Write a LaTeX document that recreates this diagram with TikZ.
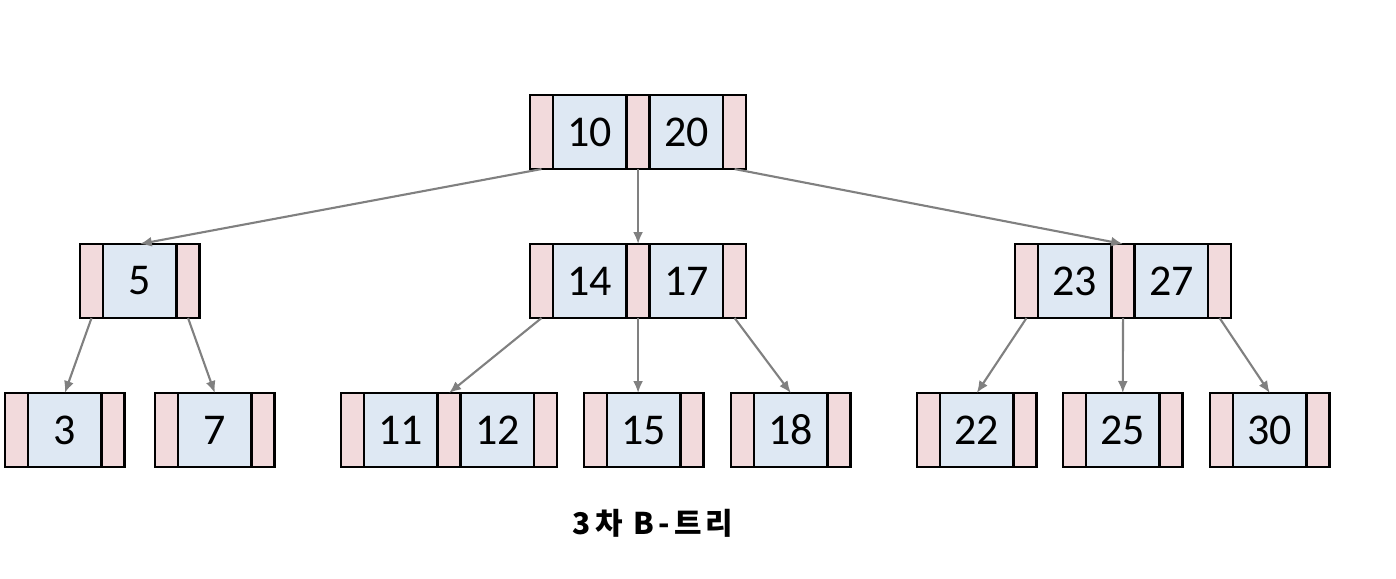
\documentclass[tikz,border=0pt]{standalone}
\usepackage{fontspec}
\setmainfont{Carlito}
\newfontfamily\kofont[LetterSpace=14]{Noto Sans CJK KR}
\usetikzlibrary{positioning,arrows.meta}

\definecolor{ptrpink}{RGB}{242,218,220}
\definecolor{keyblue}{RGB}{222,232,243}
\definecolor{edgegray}{RGB}{128,128,128}

\tikzset{
  cell/.style={draw=black,line width=0.65pt,inner sep=0pt,outer sep=0pt,minimum height=0.74cm},
  ptr/.style={cell,fill=ptrpink,minimum width=0.23cm},
  key/.style={cell,fill=keyblue,minimum width=0.735cm,font=\fontsize{12.5}{14}\selectfont},
  edge/.style={draw=edgegray,line width=0.6pt,-{Latex[length=1.2mm,width=1mm]}}
}

\begin{document}
\begin{tikzpicture}[x=0.01cm,y=-0.01cm]
        \useasboundingbox (0,0) rectangle (1396,578);

        % root
        \node[ptr,anchor=north west] (N10p0) at (530,95) {};
        \node[key,right=0pt of N10p0] (N10k1) {10};
        \node[ptr,right=0pt of N10k1] (N10p1) {};
        \node[key,right=0pt of N10p1] (N10k2) {20};
        \node[ptr,right=0pt of N10k2] (N10p2) {};

        % second level
        \node[ptr,anchor=north west] (N5p0) at (80,244) {};
        \node[key,right=0pt of N5p0] (N5k1) {5};
        \node[ptr,right=0pt of N5k1] (N5p1) {};

        \node[ptr,anchor=north west] (N14p0) at (530,244) {};
        \node[key,right=0pt of N14p0] (N14k1) {14};
        \node[ptr,right=0pt of N14k1] (N14p1) {};
        \node[key,right=0pt of N14p1] (N14k2) {17};
        \node[ptr,right=0pt of N14k2] (N14p2) {};

        \node[ptr,anchor=north west] (N23p0) at (1015,244) {};
        \node[key,right=0pt of N23p0] (N23k1) {23};
        \node[ptr,right=0pt of N23k1] (N23p1) {};
        \node[key,right=0pt of N23p1] (N23k2) {27};
        \node[ptr,right=0pt of N23k2] (N23p2) {};

        % leaves
        \node[ptr,anchor=north west] (N3p0) at (5,393) {};
        \node[key,right=0pt of N3p0] (N3k1) {3};
        \node[ptr,right=0pt of N3k1] (N3p1) {};

        \node[ptr,anchor=north west] (N7p0) at (155,393) {};
        \node[key,right=0pt of N7p0] (N7k1) {7};
        \node[ptr,right=0pt of N7k1] (N7p1) {};

        \node[ptr,anchor=north west] (N11p0) at (341,393) {};
        \node[key,right=0pt of N11p0] (N11k1) {11};
        \node[ptr,right=0pt of N11k1] (N11p1) {};
        \node[key,right=0pt of N11p1] (N11k2) {12};
        \node[ptr,right=0pt of N11k2] (N11p2) {};

        \node[ptr,anchor=north west] (N15p0) at (584,393) {};
        \node[key,right=0pt of N15p0] (N15k1) {15};
        \node[ptr,right=0pt of N15k1] (N15p1) {};

        \node[ptr,anchor=north west] (N18p0) at (731,393) {};
        \node[key,right=0pt of N18p0] (N18k1) {18};
        \node[ptr,right=0pt of N18k1] (N18p1) {};

        \node[ptr,anchor=north west] (N22p0) at (917,393) {};
        \node[key,right=0pt of N22p0] (N22k1) {22};
        \node[ptr,right=0pt of N22k1] (N22p1) {};

        \node[ptr,anchor=north west] (N25p0) at (1063,393) {};
        \node[key,right=0pt of N25p0] (N25k1) {25};
        \node[ptr,right=0pt of N25k1] (N25p1) {};

        \node[ptr,anchor=north west] (N30p0) at (1210,393) {};
        \node[key,right=0pt of N30p0] (N30k1) {30};
        \node[ptr,right=0pt of N30k1] (N30p1) {};

        % caption
        \node[font=\kofont\bfseries\fontsize{8.5}{10}\selectfont] (Caption) at (653,523) {3차 B-트리};

        % pointers
        \draw[edge] (N10p0.south) to (N5k1.north);
        \draw[edge] (N10p1.south) to (N14p1.north);
        \draw[edge] (N10p2.south) to (N23p1.north);

        \draw[edge] (N5p0.south) to (N3k1.north);
        \draw[edge] (N5p1.south) to (N7k1.north);
        \draw[edge] (N14p0.south) to (N11p1.north);
        \draw[edge] (N14p1.south) to (N14p1.south |- N15k1.north);
        \draw[edge] (N14p2.south) to (N18k1.north);
        \draw[edge] (N23p0.south) to (N22k1.north);
        \draw[edge] (N23p1.south) to (N25k1.north);
        \draw[edge] (N23p2.south) to (N30k1.north);

    \end{tikzpicture}
\end{document}
